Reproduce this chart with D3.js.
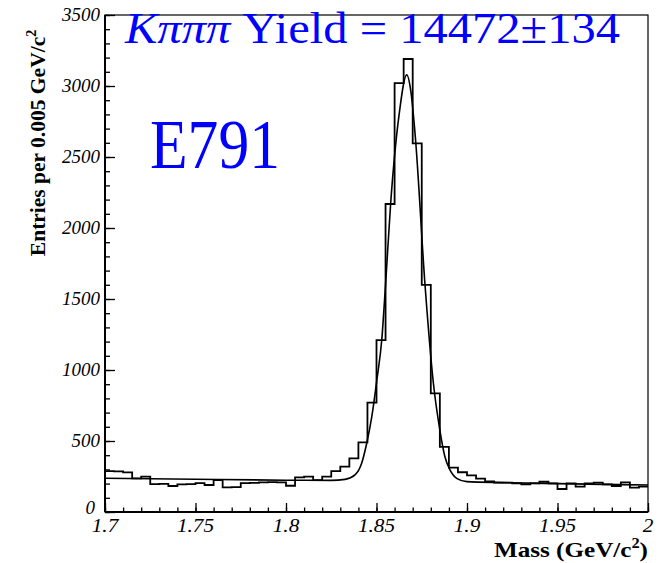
<!DOCTYPE html>
<html lang="en">
<head>
<meta charset="UTF-8">
<title>E791 K pi pi pi mass</title>
<style>
  body { margin: 0; background: #fff; }
  svg text { font-family: "Liberation Serif", "Times New Roman", serif; }
  .axis path { display: none; }
  .axis line { stroke: #000; stroke-width: 1.3px; }
</style>
</head>
<body>
<svg id="chart" width="666" height="563"></svg>
<script src="https://d3js.org/d3.v7.min.js"></script>
<script>
// histogram: 60 bins of 0.005 GeV/c^2 from 1.70 to 2.00
const massLo = 1.7, massHi = 2.0, binWidth = 0.005;
const entries = [
  288, 286, 279, 237, 249, 197, 198, 183, 195, 196,
  204, 190, 225, 174, 175, 204, 205, 209, 210, 209,
  185, 244, 249, 225, 249, 288, 320, 378, 490, 770,
  1211, 2169, 3020, 3190, 2596, 1600, 835, 458, 313, 280,
  258, 235, 216, 207, 207, 202, 195, 202, 213, 202,
  162, 202, 178, 202, 207, 195, 183, 209, 172, 178
];

// fitted curve
const fitMass = [1.700, 1.750, 1.800, 1.825, 1.8326, 1.8381, 1.8418, 1.8446, 1.8474, 1.8502,
                 1.8529, 1.855, 1.8578, 1.8625, 1.8667, 1.869, 1.8714, 1.8768, 1.8814, 1.885,
                 1.8878, 1.8906, 1.8943, 1.8999, 1.920, 1.950, 2.000];
const fitValue = [238, 231, 224, 223, 230, 261, 343, 484, 671, 930,
                  1211, 1600, 2169, 2800, 3078, 2960, 2650, 1600, 910, 577,
                  389, 296, 237, 214, 207, 200, 190];

const xMajor = [1.7, 1.75, 1.8, 1.85, 1.9, 1.95, 2];
const yMajor = [0, 500, 1000, 1500, 2000, 2500, 3000, 3500];

const svg = d3.select("#chart");
const pL = 105, pR = 648, pT = 15, pB = 512;

const x = d3.scaleLinear().domain([massLo, massHi]).range([pL, pR]);
const y = d3.scaleLinear().domain([0, 3500]).range([pB, pT]);

// frame
svg.append("rect")
    .attr("x", pL).attr("y", pT)
    .attr("width", pR - pL).attr("height", pB - pT)
    .attr("fill", "none").attr("stroke", "#000").attr("stroke-width", 1.2);

// minor ticks
svg.append("g").attr("class", "axis")
    .attr("transform", "translate(0," + pB + ")")
    .call(d3.axisBottom(x).tickValues(d3.range(1.7, 2.0001, 0.01)).tickSize(-4.5).tickFormat(""));
svg.append("g").attr("class", "axis")
    .attr("transform", "translate(" + pL + ",0)")
    .call(d3.axisLeft(y).tickValues(d3.range(0, 3501, 100)).tickSize(-5).tickFormat(""));

// major ticks
svg.append("g").attr("class", "axis")
    .attr("transform", "translate(0," + pB + ")")
    .call(d3.axisBottom(x).tickValues(xMajor).tickSize(-9).tickFormat(""));
svg.append("g").attr("class", "axis")
    .attr("transform", "translate(" + pL + ",0)")
    .call(d3.axisLeft(y).tickValues(yMajor).tickSize(-10).tickFormat(""));

// italic tick labels
const fmtX = d3.format("~g");
svg.append("g").selectAll("text")
    .data(xMajor).join("text")
    .attr("transform", d => "translate(" + x(d) + "," + (pB + 20) + ") scale(1.12,1)")
    .attr("text-anchor", "middle")
    .style("font-family", "'Liberation Serif', serif")
    .style("font-style", "italic")
    .style("font-size", "19px")
    .text(d => fmtX(d));
svg.append("g").selectAll("text")
    .data(yMajor).join("text")
    .attr("x", d => d === 0 ? pL - 10 : pL - 5)
    .attr("y", d => y(d) + (d === 0 ? 2 : 6))
    .attr("text-anchor", "end")
    .style("font-family", "'Liberation Serif', serif")
    .style("font-style", "italic")
    .style("font-size", "19px")
    .text(d => d);

// thick axis lines
svg.append("line").attr("x1", pL).attr("x2", pR).attr("y1", pB).attr("y2", pB)
    .attr("stroke", "#000").attr("stroke-width", 2);
svg.append("line").attr("x1", pL).attr("x2", pL).attr("y1", pT).attr("y2", pB)
    .attr("stroke", "#000").attr("stroke-width", 2);

// histogram outline
const steps = entries.map((v, i) => [massLo + i * binWidth, v]);
steps.push([massHi, entries[entries.length - 1]]);
svg.append("path")
    .datum(steps)
    .attr("fill", "none").attr("stroke", "#000").attr("stroke-width", 1.8)
    .attr("d", d3.line().x(d => x(d[0])).y(d => y(d[1])).curve(d3.curveStepAfter));

// fit
svg.append("path")
    .datum(fitMass.map((m, i) => [m, fitValue[i]]))
    .attr("fill", "none").attr("stroke", "#000").attr("stroke-width", 1.6)
    .attr("d", d3.line().x(d => x(d[0])).y(d => y(d[1])).curve(d3.curveMonotoneX));

// axis titles
svg.append("text")
    .attr("transform", "translate(45,143) rotate(-90)")
    .attr("text-anchor", "middle")
    .attr("font-weight", "bold").attr("font-size", 21.5)
    .html('Entries per 0.005 GeV/c<tspan dy="-9" font-size="14">2</tspan>');
svg.append("text")
    .attr("x", 648).attr("y", 557)
    .attr("text-anchor", "end")
    .attr("font-weight", "bold").attr("font-size", 21.5)
    .attr("textLength", 154).attr("lengthAdjust", "spacingAndGlyphs")
    .html('Mass (GeV/c<tspan dy="-9" font-size="14">2</tspan><tspan dy="9">)</tspan>');

// labels in blue
const title = svg.append("text")
    .attr("x", 125).attr("y", 43)
    .attr("fill", "#0000ff").attr("font-size", 44)
    .attr("textLength", 495).attr("lengthAdjust", "spacingAndGlyphs");
title.append("tspan").attr("font-style", "italic").text("Kπππ");
title.append("tspan").text(" Yield = 14472±134");

svg.append("text")
    .attr("x", 150).attr("y", 168)
    .attr("fill", "#0000ff").attr("font-size", 70)
    .attr("textLength", 130).attr("lengthAdjust", "spacingAndGlyphs")
    .text("E791");
</script>
</body>
</html>
